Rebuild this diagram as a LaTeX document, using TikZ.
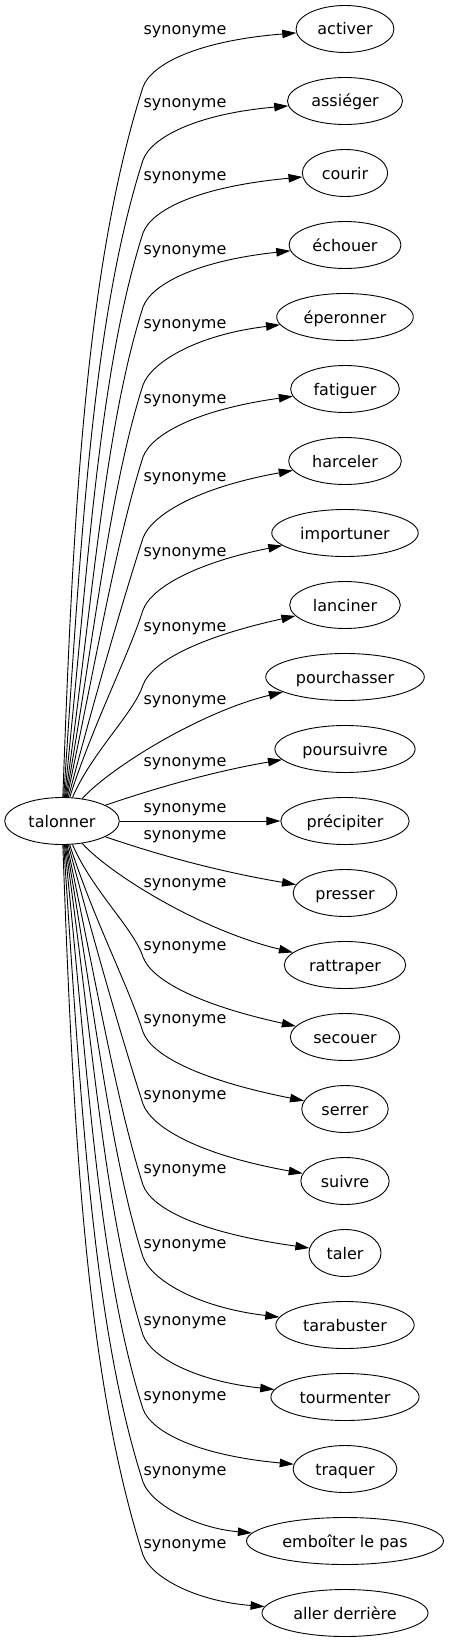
\documentclass[tikz,border=0pt]{standalone}
\usepackage{fontspec}
\setmainfont{DejaVu Sans}
\usetikzlibrary{arrows.meta}
\usetikzlibrary{shapes.geometric}

\begin{document}
\begin{tikzpicture}[x=1pt,y=-1pt,
	word/.style={draw,ellipse,line width=0.9pt,inner xsep=7pt,inner ysep=2pt,minimum height=47pt,text height=12pt,text depth=0pt,font=\fontsize{16}{19}\selectfont},
	lbl/.style={inner sep=0pt,font=\fontsize{16}{19}\selectfont},
	link/.style={line width=0.9pt,-{Triangle[length=14pt,width=8.5pt]}}]
				\useasboundingbox (0,0) rectangle (452,1643);
				
				\node[word] (talonner) at (62,821) {talonner};
				
				\node[word] (activer) at (345,29) {activer};
				\node[word] (assieger) at (345,101) {assiéger};
				\node[word] (courir) at (345,173) {courir};
				\node[word] (echouer) at (345,245) {échouer};
				\node[word] (eperonner) at (345,317) {éperonner};
				\node[word] (fatiguer) at (345,389) {fatiguer};
				\node[word] (harceler) at (345,461) {harceler};
				\node[word] (importuner) at (345,533) {importuner};
				\node[word] (lanciner) at (345,605) {lanciner};
				\node[word] (pourchasser) at (345,677) {pourchasser};
				\node[word] (poursuivre) at (345,749) {poursuivre};
				\node[word] (precipiter) at (345,821) {précipiter};
				\node[word] (presser) at (345,893) {presser};
				\node[word] (rattraper) at (345,965) {rattraper};
				\node[word] (secouer) at (345,1037) {secouer};
				\node[word] (serrer) at (345,1109) {serrer};
				\node[word] (suivre) at (345,1181) {suivre};
				\node[word] (taler) at (345,1253) {taler};
				\node[word] (tarabuster) at (345,1325) {tarabuster};
				\node[word] (tourmenter) at (345,1397) {tourmenter};
				\node[word] (traquer) at (345,1469) {traquer};
				\node[word] (emboiter) at (345,1541) {emboîter le pas};
				\node[word] (allerderriere) at (345,1613) {aller derrière};
				
				\draw[link] (talonner.88) .. controls (73,513) and (86,265) .. (143,87) .. controls (151,65) and (195,41) .. (activer);
				\draw[link] (talonner.86) .. controls (81,542) and (92,319) .. (143,160) .. controls (151,138) and (195,114) .. (assieger);
				\draw[link] (talonner.84) .. controls (88,571) and (98,374) .. (143,233) .. controls (151,211) and (195,187) .. (courir);
				\draw[link] (talonner.82) .. controls (93,601) and (104,430) .. (143,307) .. controls (151,285) and (195,261) .. (echouer);
				\draw[link] (talonner.80) .. controls (95,632) and (110,488) .. (143,385) .. controls (151,363) and (195,335) .. (eperonner);
				\draw[link] (talonner.78) .. controls (96,661) and (116,542) .. (143,457) .. controls (151,435) and (195,410) .. (fatiguer);
				\draw[link] (talonner.75) .. controls (96,693) and (122,603) .. (143,538) .. controls (151,516) and (195,488) .. (harceler);
				\draw[link] (talonner.72) .. controls (94,722) and (128,657) .. (143,610) .. controls (151,588) and (195,563) .. (importuner);
				\draw[link] (talonner.66) .. controls (92,752) and (134,713) .. (143,685) .. controls (151,663) and (195,638) .. (lanciner);
				\draw[link] (talonner.48) .. controls (110,768) and (200,712) .. (pourchasser);
				\draw[link] (talonner.20) .. controls (150,790) and (210,772) .. (poursuivre);
				\draw[link] (talonner) -- (precipiter);
				\draw[link] (talonner.-20) .. controls (150,852) and (210,870) .. (presser);
				\draw[link] (talonner.-48) .. controls (110,874) and (200,930) .. (rattraper);
				\draw[link] (talonner.-66) .. controls (92,890) and (134,929) .. (143,957) .. controls (151,979) and (195,1004) .. (secouer);
				\draw[link] (talonner.-72) .. controls (94,920) and (128,985) .. (143,1032) .. controls (151,1054) and (195,1079) .. (serrer);
				\draw[link] (talonner.-75) .. controls (96,949) and (122,1039) .. (143,1104) .. controls (151,1126) and (195,1154) .. (suivre);
				\draw[link] (talonner.-78) .. controls (96,981) and (116,1100) .. (143,1185) .. controls (151,1207) and (195,1232) .. (taler);
				\draw[link] (talonner.-80) .. controls (95,1010) and (110,1154) .. (143,1257) .. controls (151,1279) and (195,1307) .. (tarabuster);
				\draw[link] (talonner.-82) .. controls (93,1041) and (104,1212) .. (143,1335) .. controls (151,1357) and (195,1381) .. (tourmenter);
				\draw[link] (talonner.-84) .. controls (88,1071) and (98,1268) .. (143,1409) .. controls (151,1431) and (195,1455) .. (traquer);
				\draw[link] (talonner.-86) .. controls (81,1100) and (92,1323) .. (143,1482) .. controls (151,1504) and (195,1528) .. (emboiter);
				\draw[link] (talonner.-88) .. controls (73,1129) and (86,1377) .. (143,1555) .. controls (151,1577) and (195,1601) .. (allerderriere);
				
				\node[lbl] (s1) at (185,32) {synonyme};
				\node[lbl] (s2) at (185,105) {synonyme};
				\node[lbl] (s3) at (185,178) {synonyme};
				\node[lbl] (s4) at (185,252) {synonyme};
				\node[lbl] (s5) at (185,326) {synonyme};
				\node[lbl] (s6) at (185,401) {synonyme};
				\node[lbl] (s7) at (185,479) {synonyme};
				\node[lbl] (s8) at (185,554) {synonyme};
				\node[lbl] (s9) at (185,629) {synonyme};
				\node[lbl] (s10) at (185,702) {synonyme};
				\node[lbl] (s11) at (185,764) {synonyme};
				\node[lbl] (s12) at (185,810) {synonyme};
				\node[lbl] (s13) at (185,837) {synonyme};
				\node[lbl] (s14) at (185,885) {synonyme};
				\node[lbl] (s15) at (185,948) {synonyme};
				\node[lbl] (s16) at (185,1021) {synonyme};
				\node[lbl] (s17) at (185,1097) {synonyme};
				\node[lbl] (s18) at (185,1171) {synonyme};
				\node[lbl] (s19) at (185,1246) {synonyme};
				\node[lbl] (s20) at (185,1323) {synonyme};
				\node[lbl] (s21) at (185,1398) {synonyme};
				\node[lbl] (s22) at (185,1473) {synonyme};
				\node[lbl] (s23) at (185,1546) {synonyme};
			\end{tikzpicture}
\end{document}
